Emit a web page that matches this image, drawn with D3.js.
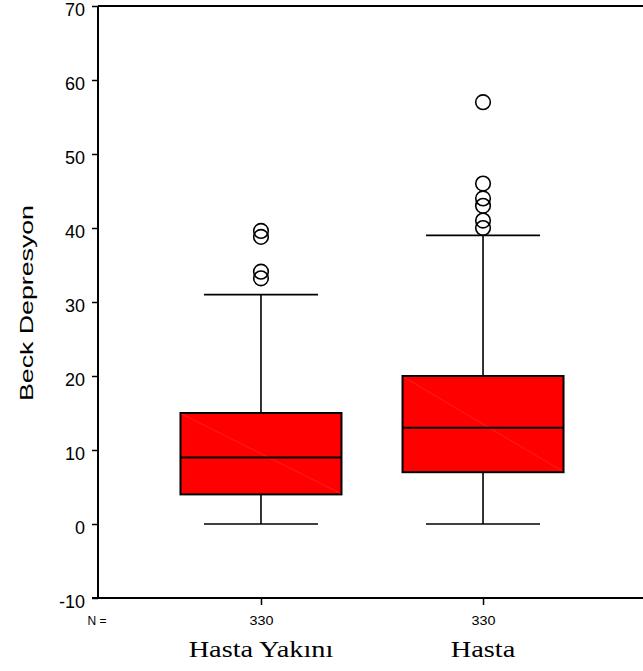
<!DOCTYPE html>
<html><head><meta charset="utf-8">
<script src="https://cdn.jsdelivr.net/npm/d3@7"></script>
<style>body{margin:0;background:#fff}svg{display:block}</style>
</head><body>
<script>
const categories = ["Hasta Yakını", "Hasta"];
const nCounts = [330, 330];
const whiskerLow = [0, 0];
const q1 = [4, 7];
const median = [9, 13];
const q3 = [15, 20];
const whiskerHigh = [31, 39];
const outliers = [[33.2, 34.1, 38.8, 39.6], [40, 41, 43, 44, 46, 57]];
const yTicks = [-10, 0, 10, 20, 30, 40, 50, 60, 70];
const yLabel = "Beck Depresyon";

(function () {
const W = 643, H = 671;
const pLeft = 98, pRight = 646, pTop = 6, pBottom = 598;
const sans = "Liberation Sans, Arial, sans-serif";
const svg = d3.select("body").append("svg").attr("width", W).attr("height", H);

const y = d3.scaleLinear().domain([-10, 70]).range([pBottom, pTop]);
const x = d3.scalePoint().domain(categories).range([pLeft, pRight]).padding(0.734);
const boxW = 161, capHalf = 57;

// frame: top line
svg.append("line").attr("x1", pLeft).attr("x2", W).attr("y1", pTop).attr("y2", pTop)
  .attr("stroke", "#000").attr("stroke-width", 2);

// y axis
const ya = svg.append("g").attr("transform", `translate(${pLeft},0)`)
  .call(d3.axisLeft(y).tickValues(yTicks).tickSize(6).tickPadding(7).tickFormat(d => String(d)));
ya.select(".domain").attr("stroke-width", 2).attr("d", `M0,${pTop}V${pBottom}`);
ya.selectAll(".tick line").attr("stroke-width", 1.5);
ya.selectAll("text").attr("font-family", sans).attr("font-size", 18).attr("fill", "#000").attr("dy", "0.55em");

// x axis
const xa = svg.append("g").attr("transform", `translate(0,${pBottom})`)
  .call(d3.axisBottom(x).tickSize(7).tickFormat((d, i) => nCounts[i]));
xa.select(".domain").attr("stroke-width", 2).attr("d", `M${pLeft - 6},0H${W}`);
xa.selectAll(".tick line").attr("stroke-width", 1.5);
xa.selectAll("text").attr("font-family", sans).attr("font-size", 12).attr("fill", "#000")
  .attr("y", 27).attr("dy", 0).attr("textLength", 24).attr("lengthAdjust", "spacingAndGlyphs");

svg.append("text").attr("x", 97).attr("y", 625).attr("text-anchor", "middle")
  .attr("font-family", sans).attr("font-size", 12).text("N =");

// category labels
svg.selectAll(".cat").data(categories).join("text")
  .attr("transform", d => `translate(${x(d)},657) scale(1.18,1)`).attr("text-anchor", "middle")
  .attr("font-family", "Liberation Serif, Times New Roman, serif").attr("font-size", 24)
  .text(d => d);

// y label
svg.append("text").attr("transform", `translate(33,303) rotate(-90)`)
  .attr("text-anchor", "middle").attr("font-family", sans)
  .attr("font-size", 18).attr("textLength", 196).attr("lengthAdjust", "spacingAndGlyphs").text(yLabel);

// boxes
const g = svg.append("g");
categories.forEach((c, i) => {
  const cx = x(c);
  g.append("line").attr("x1", cx).attr("x2", cx).attr("y1", y(whiskerHigh[i])).attr("y2", y(q3[i])).attr("stroke", "#000").attr("stroke-width", 1.6);
  g.append("line").attr("x1", cx).attr("x2", cx).attr("y1", y(q1[i])).attr("y2", y(whiskerLow[i])).attr("stroke", "#000").attr("stroke-width", 1.6);
  [whiskerHigh[i], whiskerLow[i]].forEach(v => {
    g.append("line").attr("x1", cx - capHalf).attr("x2", cx + capHalf).attr("y1", y(v)).attr("y2", y(v)).attr("stroke", "#000").attr("stroke-width", 1.6);
  });
  g.append("rect").attr("x", cx - boxW / 2).attr("y", y(q3[i])).attr("width", boxW).attr("height", y(q1[i]) - y(q3[i]))
    .attr("fill", "#ff0000").attr("stroke", "#000").attr("stroke-width", 2);
  g.append("line").attr("x1", cx - boxW / 2 + 1).attr("y1", y(q3[i]) + 1).attr("x2", cx + boxW / 2 - 1).attr("y2", y(q1[i]) - 1)
    .attr("stroke", "#ff3a3a").attr("stroke-width", 0.5);
  g.append("line").attr("x1", cx - boxW / 2).attr("x2", cx + boxW / 2).attr("y1", y(median[i])).attr("y2", y(median[i])).attr("stroke", "#000").attr("stroke-width", 2);
  outliers[i].forEach(v => {
    g.append("circle").attr("cx", cx).attr("cy", y(v)).attr("r", 7.3)
      .attr("fill", "none").attr("stroke", "#000").attr("stroke-width", 1.6);
  });
});
})();
</script>
</body></html>
